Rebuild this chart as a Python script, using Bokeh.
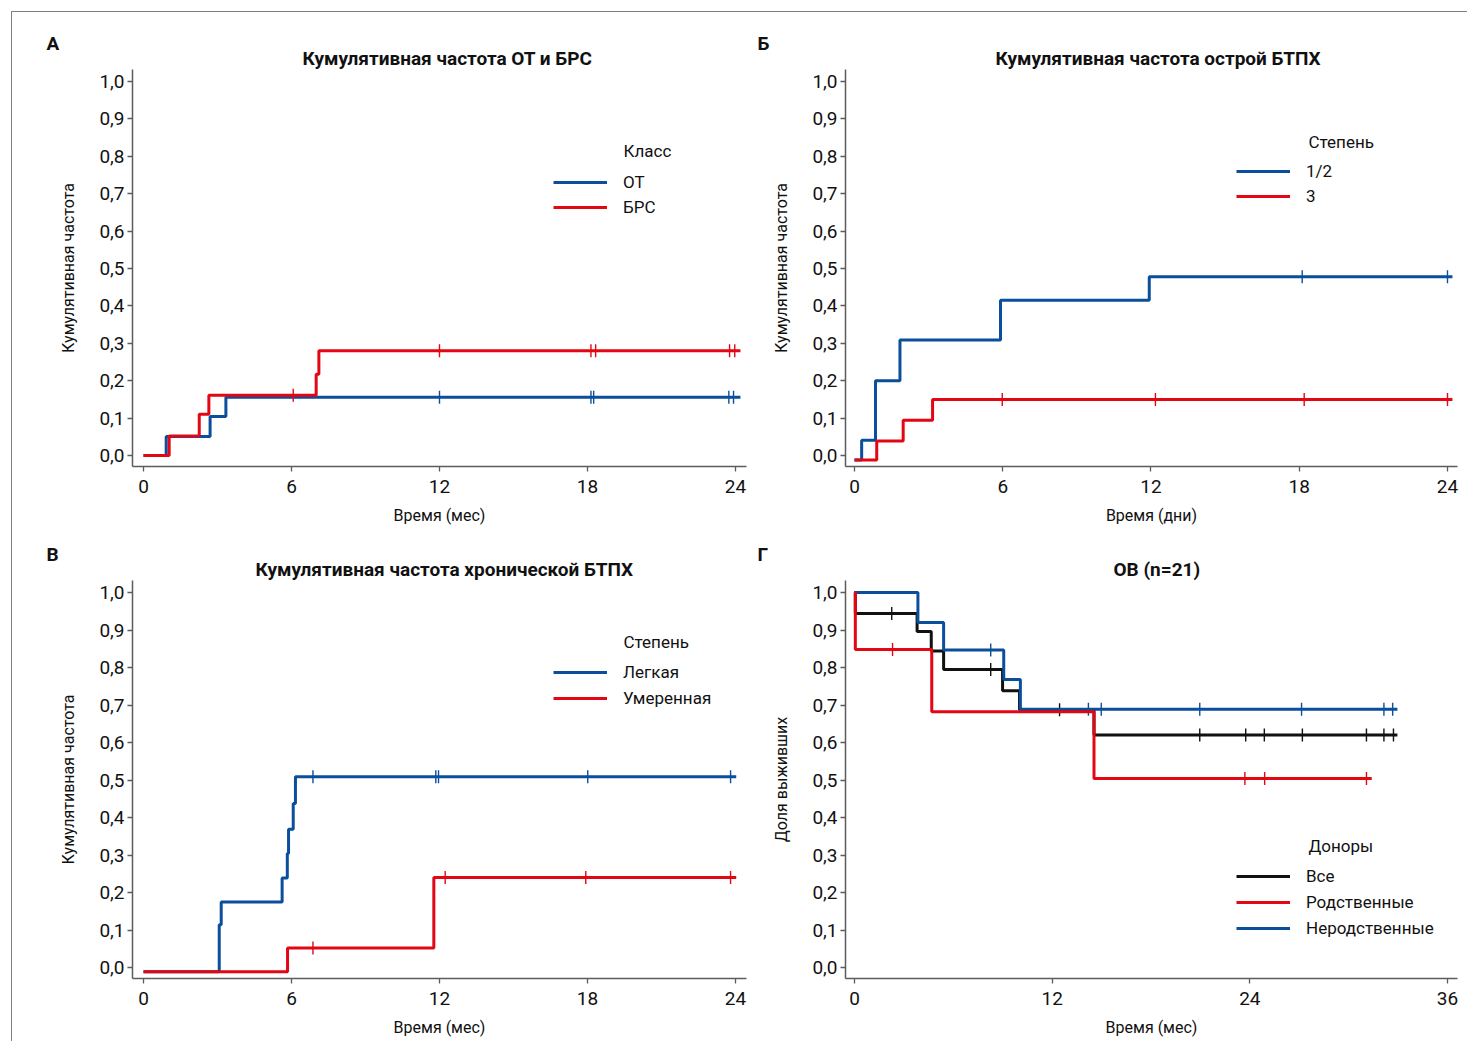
import numpy as np
from bokeh.plotting import figure
from bokeh.models import Label, Legend, LegendItem, FixedTicker, CustomJSTickFormatter, Range1d, Title
from bokeh.layouts import column, row
from bokeh.embed import file_html
from bokeh.resources import INLINE

BLUE = "#0b4f9c"
RED = "#e30613"
BLACK = "#111111"
FONT = "Roboto"

# ---------------- Data ----------------
# Panel A: cumulative incidence of OT and BRS
a_ot_t = [0, 0.92, 2.70, 3.34, 24.2]
a_ot_v = [0.0, 0.051, 0.104, 0.156, 0.156]
a_ot_cens = [12.0, 18.14, 18.25, 23.73, 23.92]
a_brs_t = [0, 1.04, 2.26, 2.65, 7.0, 7.11, 24.2]
a_brs_v = [0.0, 0.052, 0.110, 0.161, 0.217, 0.280, 0.280]
a_brs_cens = [6.07, 12.0, 18.14, 18.33, 23.76, 23.97]

# Panel Б: acute GVHD by grade
b_12_t = [0, 0.29, 0.85, 1.84, 5.91, 11.93, 24.2]
b_12_v = [-0.012, 0.041, 0.200, 0.309, 0.415, 0.478, 0.478]
b_12_cens = [18.12, 24.0]
b_3_t = [0, 0.90, 1.97, 3.16, 24.2]
b_3_v = [-0.012, 0.039, 0.094, 0.150, 0.150]
b_3_cens = [5.98, 12.18, 18.2, 24.0]

# Panel В: chronic GVHD by grade
c_mild_t = [0, 3.07, 3.15, 5.62, 5.83, 5.88, 6.07, 6.16, 24.03]
c_mild_v = [-0.011, 0.114, 0.175, 0.239, 0.304, 0.369, 0.4375, 0.509, 0.509]
c_mild_cens = [6.87, 11.85, 11.96, 18.01, 23.8]
c_mod_t = [0, 5.84, 11.77, 24.03]
c_mod_v = [-0.011, 0.052, 0.240, 0.240]
c_mod_cens = [6.87, 12.23, 17.93, 23.8]

# Panel Г: overall survival by donor
d_all_t = [0, 0.05, 3.8, 4.66, 5.41, 8.99, 10.02, 14.54, 32.96]
d_all_v = [1.0, 0.944, 0.896, 0.844, 0.795, 0.738, 0.6875, 0.620, 0.620]
d_all_cens = [2.26, 8.27, 12.45, 20.96, 23.75, 24.88, 27.19, 31.08, 32.14, 32.72]
d_rel_t = [0, 0.05, 4.69, 14.54, 31.4]
d_rel_v = [1.0, 0.848, 0.682, 0.504, 0.504]
d_rel_cens = [2.31, 23.7, 24.9, 31.08]
d_unrel_t = [0, 3.85, 5.41, 9.06, 10.07, 32.96]
d_unrel_v = [1.0, 0.92, 0.847, 0.768, 0.689, 0.689]
d_unrel_cens = [8.27, 14.2, 14.98, 20.96, 27.14, 32.14, 32.67]

y_ticks = [round(i * 0.1, 1) for i in range(11)]
x_ticks_24 = [0, 6, 12, 18, 24]
x_ticks_36 = [0, 12, 24, 36]


def step_val(ts, vs, x):
    ts = np.asarray(ts)
    vs = np.asarray(vs)
    idx = np.clip(np.searchsorted(ts, x, side="right") - 1, 0, len(vs) - 1)
    return vs[idx]


def make_fig(width, height, mb, xr, yr, xticks, xlabel, ylabel):
    p = figure(width=width, height=height, output_backend="svg", toolbar_location=None,
               x_range=Range1d(*xr), y_range=Range1d(*yr),
               min_border_left=mb[0], min_border_right=mb[1],
               min_border_top=mb[2], min_border_bottom=mb[3])
    p.outline_line_color = None
    p.grid.visible = False
    p.xaxis.ticker = FixedTicker(ticks=xticks)
    p.yaxis.ticker = FixedTicker(ticks=y_ticks)
    p.yaxis.formatter = CustomJSTickFormatter(code="return tick.toFixed(1).replace('.', ',');")
    for ax in (p.xaxis, p.yaxis):
        ax.axis_line_color = "#5c5c5c"
        ax.axis_line_width = 1.5
        ax.major_tick_line_color = "#5c5c5c"
        ax.major_tick_line_width = 1.3
        ax.major_tick_out = 5
        ax.major_tick_in = 0
        ax.minor_tick_line_color = None
        ax.major_label_text_font = FONT
        ax.major_label_text_font_size = "19px"
        ax.major_label_text_color = "#111111"
        ax.axis_label_text_font = FONT
        ax.axis_label_text_font_size = "16px"
        ax.axis_label_text_font_style = "normal"
        ax.axis_label_text_color = "#111111"
    p.xaxis.axis_label = xlabel
    p.yaxis.axis_label = ylabel
    p.xaxis.major_label_standoff = 8
    p.xaxis.axis_label_standoff = 10
    p.yaxis.major_label_standoff = 3
    p.yaxis.axis_label_standoff = 18
    return p


def add_curve(p, ts, vs, cens, color):
    r = p.step(ts, vs, mode="after", line_color=color, line_width=3)
    cy = step_val(ts, vs, cens)
    p.scatter(cens, cy, marker="dash", angle=np.pi / 2, size=13,
              line_color=color, line_width=1.4)
    return r


def label(p, text, x, y):
    p.add_layout(Label(x=x, y=y, x_units="screen", y_units="screen", text=text,
                       text_font=FONT, text_font_size="17px",
                       text_align="left", text_baseline="middle", text_color="#111111"))


def titles(p, letter, letter_offset, title, title_offset):
    p.add_layout(Title(text=title, align="left", offset=title_offset, text_font=FONT,
                       text_font_size="19px", text_font_style="bold", text_color="#111111",
                       standoff=0), "above")
    p.add_layout(Title(text=letter, align="left", offset=letter_offset, text_font=FONT,
                       text_font_size="19px", text_font_style="bold", text_color="#111111",
                       standoff=-21), "above")


def legend(p, items, x, y, spacing):
    lg = Legend(items=[LegendItem(label=t, renderers=[r]) for t, r in items],
                location=(x, y), orientation="vertical",
                glyph_width=54, glyph_height=20, label_height=20, label_standoff=16,
                spacing=spacing, padding=0, margin=0,
                border_line_color=None, background_fill_alpha=0,
                label_text_font=FONT, label_text_font_size="17px", label_text_color="#111111")
    p.add_layout(lg, "center")


# ---------------- Panel A ----------------
pA = make_fig(738, 524, (120, 4, 57, 70), (-0.446, 24.446), (-0.0294, 1.032),
              x_ticks_24, "Время (мес)", "Кумулятивная частота")
rA1 = add_curve(pA, a_ot_t, a_ot_v, a_ot_cens, BLUE)
rA2 = add_curve(pA, a_brs_t, a_brs_v, a_brs_cens, RED)
legend(pA, [("ОТ", rA1), ("БРС", rA2)], 421, 249, 5)
titles(pA, "А", -86, "Кумулятивная частота ОТ и БРС", 170)
label(pA, "Класс", 491, 316)

# ---------------- Panel Б ----------------
pB = make_fig(717, 524, (95, 10, 57, 70), (-0.364, 24.405), (-0.0294, 1.032),
              x_ticks_24, "Время (дни)", "Кумулятивная частота")
rB1 = add_curve(pB, b_12_t, b_12_v, b_12_cens, BLUE)
rB2 = add_curve(pB, b_3_t, b_3_v, b_3_cens, RED)
legend(pB, [("1/2", rB1), ("3", rB2)], 391, 260, 5)
titles(pB, "Б", -88, "Кумулятивная частота острой БТПХ", 150)
label(pB, "Степень", 463, 325)

# ---------------- Panel В ----------------
pC = make_fig(738, 505, (120, 4, 44, 63), (-0.446, 24.446), (-0.0293, 1.032),
              x_ticks_24, "Время (мес)", "Кумулятивная частота")
rC1 = add_curve(pC, c_mild_t, c_mild_v, c_mild_cens, BLUE)
rC2 = add_curve(pC, c_mod_t, c_mod_v, c_mod_cens, RED)
legend(pC, [("Легкая", rC1), ("Умеренная", rC2)], 421, 270, 6)
titles(pC, "В", -86, "Кумулятивная частота хронической БТПХ", 123)
label(pC, "Степень", 491, 337)

# ---------------- Panel Г ----------------
pD = make_fig(717, 505, (95, 10, 44, 63), (-0.546, 36.607), (-0.0293, 1.032),
              x_ticks_36, "Время (мес)", "Доля выживших")
rD1 = add_curve(pD, d_all_t, d_all_v, d_all_cens, BLACK)
rD3 = add_curve(pD, d_unrel_t, d_unrel_v, d_unrel_cens, BLUE)
rD2 = add_curve(pD, d_rel_t, d_rel_v, d_rel_cens, RED)
legend(pD, [("Все", rD1), ("Родственные", rD2), ("Неродственные", rD3)], 391, 40, 6)
titles(pD, "Г", -88, "ОВ (n=21)", 268)
label(pD, "Доноры", 463, 133)

layout = column(row(pA, pB), row(pC, pD), margin=(11, 0, 0, 11),
                styles={"border-top": "1px solid #808080", "border-left": "1px solid #808080"})

open("out.html", "w").write(file_html(layout, INLINE))
